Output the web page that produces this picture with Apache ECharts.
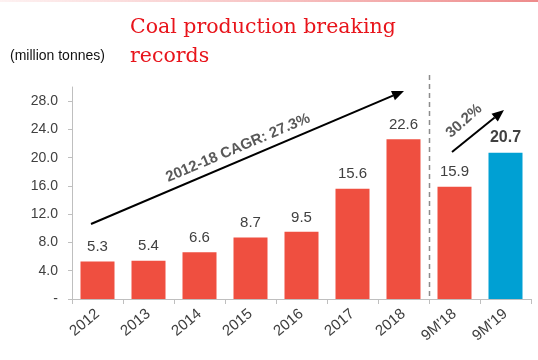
<!DOCTYPE html>
<html>
<head>
<meta charset="utf-8">
<script src="https://cdn.jsdelivr.net/npm/echarts@6/dist/echarts.min.js"></script>
<style>html,body{margin:0;padding:0;background:#fff}#c{width:538px;height:360px}</style>
</head>
<body>
<div id="c"></div>
<script>
var categories = ['2012','2013','2014','2015','2016','2017','2018',"9M'18","9M'19"];
var values = [5.3, 5.4, 6.6, 8.7, 9.5, 15.6, 22.6, 15.9, 20.7];
var yTicks = [0, 4, 8, 12, 16, 20, 24, 28];
var titleLines = ['Coal production breaking', 'records'];
var unitLabel = '(million tonnes)';
var cagrLabel = '2012-18 CAGR: 27.3%';
var growthLabel = '30.2%';

var RED = '#EF4F40', BLUE = '#00A0D3';

function arrow(x1, y1, x2, y2) {
  var ang = Math.atan2(y2 - y1, x2 - x1);
  var L = 12, W = 5;
  var bx = x2 - L * Math.cos(ang), by = y2 - L * Math.sin(ang);
  var px = -Math.sin(ang) * W, py = Math.cos(ang) * W;
  return [
    {type: 'line', shape: {x1: x1, y1: y1, x2: bx, y2: by}, style: {stroke: '#000', lineWidth: 2}},
    {type: 'polygon', shape: {points: [[x2, y2], [bx + px, by + py], [bx - px, by - py]]}, style: {fill: '#000'}}
  ];
}

var chart = echarts.init(document.getElementById('c'), null, {renderer: 'canvas'});
var graphics = [
  {type: 'rect', shape: {x: 0, y: 0, width: 538, height: 2},
   style: {fill: new echarts.graphic.LinearGradient(0, 0, 1, 0, [{offset: 0, color: 'rgba(240,120,120,0.1)'}, {offset: 1, color: 'rgba(230,90,90,0.7)'}])}},
  {type: 'text', left: 130, top: 13, style: {text: titleLines.join('\n'), font: '20.5px "DejaVu Serif"', fill: '#E8141B', lineHeight: 29}},
  {type: 'text', left: 10, top: 49, style: {text: unitLabel, font: '14px "Liberation Sans"', fill: '#111'}},
  {type: 'line', shape: {x1: 429.5, y1: 75, x2: 429.5, y2: 299}, style: {stroke: '#8C8C8C', lineWidth: 1.5, lineDash: [5, 4]}},
  {type: 'text', x: 238, y: 148, rotation: 23 * Math.PI / 180,
   style: {text: cagrLabel, font: 'bold 15px "Liberation Sans"', fill: '#595959', align: 'center', verticalAlign: 'middle'}},
  {type: 'text', x: 464, y: 121, rotation: 42 * Math.PI / 180,
   style: {text: growthLabel, font: 'bold 15px "Liberation Sans"', fill: '#595959', align: 'center', verticalAlign: 'middle'}}
].concat(arrow(91, 224, 404, 91)).concat(arrow(452, 152, 504, 110));

chart.setOption({
  animation: false,
  grid: {left: 72, right: 7, top: 87, bottom: 61, containLabel: false},
  xAxis: {
    type: 'category', data: categories,
    axisLine: {lineStyle: {color: '#BFBFBF', width: 1}},
    axisTick: {show: true, length: 5, lineStyle: {color: '#BFBFBF'}},
    axisLabel: {rotate: 40, margin: 13, fontSize: 15, color: '#404040', fontFamily: 'Liberation Sans'}
  },
  yAxis: {
    type: 'value', min: 0, max: 30, interval: 4,
    splitLine: {show: false},
    axisLine: {show: true, lineStyle: {color: '#BFBFBF', width: 1}},
    axisTick: {show: true, length: 4, lineStyle: {color: '#BFBFBF'}, customValues: yTicks},
    axisLabel: {
      customValues: yTicks, margin: 14, fontSize: 14, color: '#404040', fontFamily: 'Liberation Sans',
      formatter: function (v) { return v === 0 ? '-' : v.toFixed(1); }
    }
  },
  series: [{
    type: 'bar', barWidth: 34,
    data: values.map(function (v, i) {
      var last = i === values.length - 1;
      return {
        value: v,
        itemStyle: {color: last ? BLUE : RED},
        label: last ? {fontWeight: 'bold', fontSize: 16, color: '#404040'} : {}
      };
    }),
    label: {show: true, position: 'top', distance: 7, fontSize: 15, color: '#404040', fontFamily: 'Liberation Sans',
      formatter: function (p) { return p.value.toFixed(1); }}
  }],
  graphic: graphics
});
</script>
</body>
</html>
